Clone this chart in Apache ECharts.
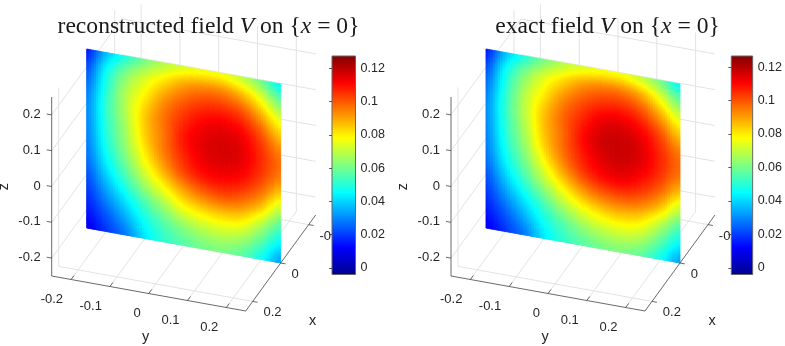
<!DOCTYPE html>
<html><head><meta charset="utf-8">
<style>html,body{margin:0;padding:0;background:#fff}#c{width:785px;height:346px}</style>
<script src="https://cdn.jsdelivr.net/npm/echarts@6/dist/echarts.min.js"></script>
</head><body><div id="c"></div>
<script>
// Values: V on the plane x = 0. Rows run top (z=.25) to bottom (z=-.25), columns y=-.25..y=.25.
const reconstructedField = [
 [.015,.036,.049,.060,.068,.073,.076,.076,.070,.060,.045],
 [.022,.045,.061,.072,.081,.089,.093,.093,.087,.075,.059],
 [.027,.049,.067,.079,.091,.099,.104,.105,.101,.089,.074],
 [.030,.051,.068,.084,.096,.105,.111,.113,.110,.100,.086],
 [.030,.050,.066,.084,.096,.108,.114,.116,.114,.105,.095],
 [.029,.048,.064,.081,.095,.106,.113,.115,.113,.105,.096],
 [.027,.044,.059,.075,.089,.101,.108,.110,.107,.099,.087],
 [.023,.038,.052,.066,.078,.089,.096,.099,.096,.087,.071],
 [.019,.031,.043,.055,.066,.076,.081,.083,.081,.070,.056],
 [.015,.024,.035,.047,.056,.063,.068,.070,.067,.057,.044],
 [.011,.019,.028,.042,.051,.056,.060,.061,.057,.047,.033]
];
const exactField = [
 [.015,.036,.049,.060,.068,.073,.076,.076,.070,.060,.045],
 [.022,.045,.061,.073,.082,.090,.094,.094,.088,.075,.059],
 [.027,.049,.067,.080,.092,.100,.105,.106,.101,.089,.074],
 [.030,.051,.069,.085,.097,.106,.113,.114,.110,.100,.086],
 [.030,.050,.067,.085,.097,.109,.116,.117,.114,.105,.095],
 [.029,.048,.064,.082,.096,.107,.114,.116,.113,.105,.096],
 [.027,.044,.059,.075,.090,.102,.109,.111,.107,.099,.087],
 [.023,.038,.052,.066,.079,.090,.097,.099,.096,.087,.071],
 [.019,.031,.043,.055,.067,.076,.082,.084,.081,.070,.056],
 [.015,.024,.035,.047,.056,.064,.069,.071,.068,.057,.044],
 [.011,.019,.028,.042,.051,.056,.060,.061,.057,.047,.033]
];
const yTicks = [-0.2,-0.1,0,0.1,0.2];
const zTicks = [-0.2,-0.1,0,0.1,0.2];
const xTicks = [0.2,0,-0.2];
const colorbarTicks = [0,0.02,0.04,0.06,0.08,0.1,0.12];
const axisLimit = 0.25;
const planeX = 0;
const leftRange = [-0.0039,0.1273];
const rightRange = [-0.0039,0.1266];
const jetStops = [[0,'#00008f'],[0.125,'#0000ff'],[0.375,'#00ffff'],[0.625,'#ffff00'],[0.875,'#ff0000'],[1,'#800000']];
const titles = ['reconstructed field {i|V} on {{i|x} = 0}','exact field {i|V} on {{i|x} = 0}'];

// oblique view of the box: how far x and y shift a point on screen
const view = {xRun:[70,-96], yRun:[0,35]};
const SUB = 8;
const TXT='#262626', SANS='"Liberation Sans",Arial,sans-serif';

function hex(c){return [1,3,5].map(i=>parseInt(c.substr(i,2),16));}
function jet(t){
  t=Math.max(0,Math.min(1,t));
  for(let i=1;i<jetStops.length;i++){
    if(t<=jetStops[i][0]){
      const a=jetStops[i-1],b=jetStops[i],f=(t-a[0])/(b[0]-a[0]),A=hex(a[1]),B=hex(b[1]);
      return 'rgb('+A.map((v,k)=>Math.round(v+(B[k]-v)*f)).join(',')+')';
    }
  }
  return jetStops[jetStops.length-1][1];
}
function project(api,x,y,z){
  const p=api.coord([y,z]);
  const a=(axisLimit-x)/(2*axisLimit), b=(y+axisLimit)/(2*axisLimit);
  return [p[0]+a*view.xRun[0]+b*view.yRun[0], p[1]+a*view.xRun[1]+b*view.yRun[1]];
}
// surface shading ("interp"): smooth colour between the read grid values
function cr(a,b,c,d,t){return b+0.5*t*(c-a+t*(2*a-5*b+4*c-d+t*(3*(b-c)+d-a)));}
function shade(tb,ci,cj,fu,fv){
  const n=tb.length,m=tb[0].length;
  const g=(j,i)=>tb[Math.max(0,Math.min(n-1,j))][Math.max(0,Math.min(m-1,i))];
  const rows=[];
  for(let k=-1;k<=2;k++)rows.push(cr(g(cj+k,ci-1),g(cj+k,ci),g(cj+k,ci+1),g(cj+k,ci+2),fu));
  return cr(rows[0],rows[1],rows[2],rows[3],fv);
}
const cellData=[];
for(let j=0;j<reconstructedField.length-1;j++)for(let i=0;i<reconstructedField[0].length-1;i++)cellData.push([i,j]);

function surfaceItem(tb,range){
  const nCols=tb[0].length-1,nRows=tb.length-1;
  return function(params,api){
    const ci=cellData[params.dataIndex][0],cj=cellData[params.dataIndex][1],children=[];
    for(let a=0;a<SUB;a++)for(let b=0;b<SUB;b++){
      const u0=(ci+a/SUB)/nCols,u1=(ci+(a+1)/SUB)/nCols,v0=(cj+b/SUB)/nRows,v1=(cj+(b+1)/SUB)/nRows;
      const Y=u=>-axisLimit+2*axisLimit*u,Z=v=>axisLimit-2*axisLimit*v;
      const val=shade(tb,ci,cj,(a+.5)/SUB,(b+.5)/SUB);
      const col=jet((val-range[0])/(range[1]-range[0]));
      children.push({type:'polygon',silent:true,
        shape:{points:[project(api,planeX,Y(u0),Z(v0)),project(api,planeX,Y(u1),Z(v0)),project(api,planeX,Y(u1),Z(v1)),project(api,planeX,Y(u0),Z(v1))]},
        style:{fill:col,stroke:col,lineWidth:0.9}});
    }
    return {type:'group',children};
  };
}
const L=axisLimit;
const gridSegs=[];
yTicks.forEach(y=>{gridSegs.push([L,y,-L,-L,y,-L]);gridSegs.push([-L,y,-L,-L,y,L]);});
xTicks.forEach(x=>{gridSegs.push([x,-L,-L,x,L,-L]);gridSegs.push([x,-L,-L,x,-L,L]);});
zTicks.forEach(z=>{gridSegs.push([L,-L,z,-L,-L,z]);gridSegs.push([-L,-L,z,-L,L,z]);});
const axisSegs=[[L,-L,-L,L,L,-L],[L,L,-L,-L,L,-L],[L,-L,-L,L,-L,L]];
function segItem(color,width){
  return function(params,api){
    const a=project(api,api.value(0),api.value(1),api.value(2)),b=project(api,api.value(3),api.value(4),api.value(5));
    return {type:'line',silent:true,shape:{x1:a[0],y1:a[1],x2:b[0],y2:b[1]},style:{stroke:color,lineWidth:width}};
  };
}
const tickMarks=[];
yTicks.forEach(y=>tickMarks.push([L,y,-L,3,-4]));
xTicks.forEach(x=>tickMarks.push([x,L,-L,4.9,0.9]));
zTicks.forEach(z=>tickMarks.push([L,-L,z,-5,-0.9]));
function tickItem(params,api){
  const p=project(api,api.value(0),api.value(1),api.value(2));
  return {type:'line',silent:true,shape:{x1:p[0],y1:p[1],x2:p[0]+api.value(3),y2:p[1]+api.value(4)},style:{stroke:'#444',lineWidth:0.8}};
}
function fmt(v){return String(v);}
const tickLabels=[];
yTicks.forEach(y=>tickLabels.push({p:[L,y,-L],dx:-8,dy:19.5,align:'right',text:fmt(y)}));
xTicks.forEach(x=>tickLabels.push({p:[x,L,-L],dx:10.8,dy:11.5,align:'left',text:fmt(x)}));
zTicks.forEach(z=>tickLabels.push({p:[L,-L,z],dx:-11,dy:-0.5,align:'right',text:fmt(z)}));
function labelItem(params,api){
  const t=tickLabels[params.dataIndex],p=project(api,t.p[0],t.p[1],t.p[2]);
  return {type:'text',silent:true,style:{x:p[0]+t.dx,y:p[1]+t.dy,text:t.text,textAlign:t.align,textVerticalAlign:'middle',fill:TXT,fontSize:13,fontFamily:SANS}};
}
const axisNames=[{text:'y',p:[L,0,-L],dx:-3,dy:43,rot:0},{text:'x',p:[0,L,-L],dx:32,dy:58,rot:0},{text:'z',p:[L,-L,0],dx:-48,dy:0,rot:Math.PI/2}];
function nameItem(params,api){
  const t=axisNames[params.dataIndex],p=project(api,t.p[0],t.p[1],t.p[2]);
  return {type:'text',silent:true,x:p[0]+t.dx,y:p[1]+t.dy,rotation:t.rot,style:{x:0,y:0,text:t.text,textAlign:'center',textVerticalAlign:'middle',fill:TXT,fontSize:14.5,fontFamily:SANS}};
}
function barItem(params,api){
  const a=api.coord([0,api.value(1)]),b=api.coord([1,api.value(0)]);
  return {type:'rect',silent:true,shape:{x:a[0],y:a[1],width:b[0]-a[0],height:b[1]-a[1]},
    style:{stroke:'#666',lineWidth:1,fill:new echarts.graphic.LinearGradient(0,1,0,0,jetStops.map(s=>({offset:s[0],color:s[1]})))}};
}
const grids=[],xAxes=[],yAxes=[],series=[];
function panel(dx,tb,range){
  const g=grids.length;
  grids.push({left:51.7+dx,top:97,width:194,height:179});
  xAxes.push({type:'value',gridIndex:g,min:-L,max:L,show:false});
  yAxes.push({type:'value',gridIndex:g,min:-L,max:L,show:false});
  const base={type:'custom',xAxisIndex:g,yAxisIndex:g,coordinateSystem:'cartesian2d',animation:false,silent:true,clip:false,progressive:0};
  series.push(Object.assign({},base,{z:1,data:gridSegs,renderItem:segItem('#e3e3e3',1)}));
  series.push(Object.assign({},base,{z:2,data:tickLabels.map((t,i)=>[i,0]),renderItem:labelItem}));
  series.push(Object.assign({},base,{z:3,data:cellData,renderItem:surfaceItem(tb,range)}));
  series.push(Object.assign({},base,{z:4,data:axisSegs,renderItem:segItem('#444',0.8)}));
  series.push(Object.assign({},base,{z:4,data:tickMarks,renderItem:tickItem}));
  series.push(Object.assign({},base,{z:4,data:axisNames.map((t,i)=>[i,0]),renderItem:nameItem}));
  const c=grids.length;
  grids.push({left:332+dx,top:56,width:23.5,height:218.5,z:5});
  xAxes.push({type:'value',gridIndex:c,min:0,max:1,show:false});
  yAxes.push({type:'value',gridIndex:c,min:range[0],max:range[1],position:'right',z:7,
    splitLine:{show:false},axisLine:{show:false},
    axisTick:{show:true,inside:true,length:3,lineStyle:{color:'#333',width:0.8},customValues:colorbarTicks},
    axisLabel:{margin:5,color:TXT,fontSize:12.5,fontFamily:SANS,customValues:colorbarTicks,formatter:v=>String(+v.toFixed(2))}});
  series.push({type:'custom',xAxisIndex:c,yAxisIndex:c,coordinateSystem:'cartesian2d',animation:false,silent:true,z:6,
    data:[range],renderItem:barItem});
}
panel(0,reconstructedField,leftRange);
panel(399.3,exactField,rightRange);
const titleStyle={fontFamily:'"Liberation Serif",serif',fontSize:23.6,color:'#1a1a1a',fontWeight:'normal',
  rich:{i:{fontFamily:'"Liberation Serif",serif',fontSize:23.6,fontStyle:'italic',color:'#1a1a1a'}}};
const chart=echarts.init(document.getElementById('c'),null,{renderer:'canvas'});
chart.setOption({animation:false,backgroundColor:'#fff',
  title:[{text:titles[0],left:203.5,top:10,textAlign:'center',textStyle:titleStyle,z:10},
         {text:titles[1],left:602.5,top:10,textAlign:'center',textStyle:titleStyle,z:10}],
  grid:grids,xAxis:xAxes,yAxis:yAxes,series});
</script></body></html>
